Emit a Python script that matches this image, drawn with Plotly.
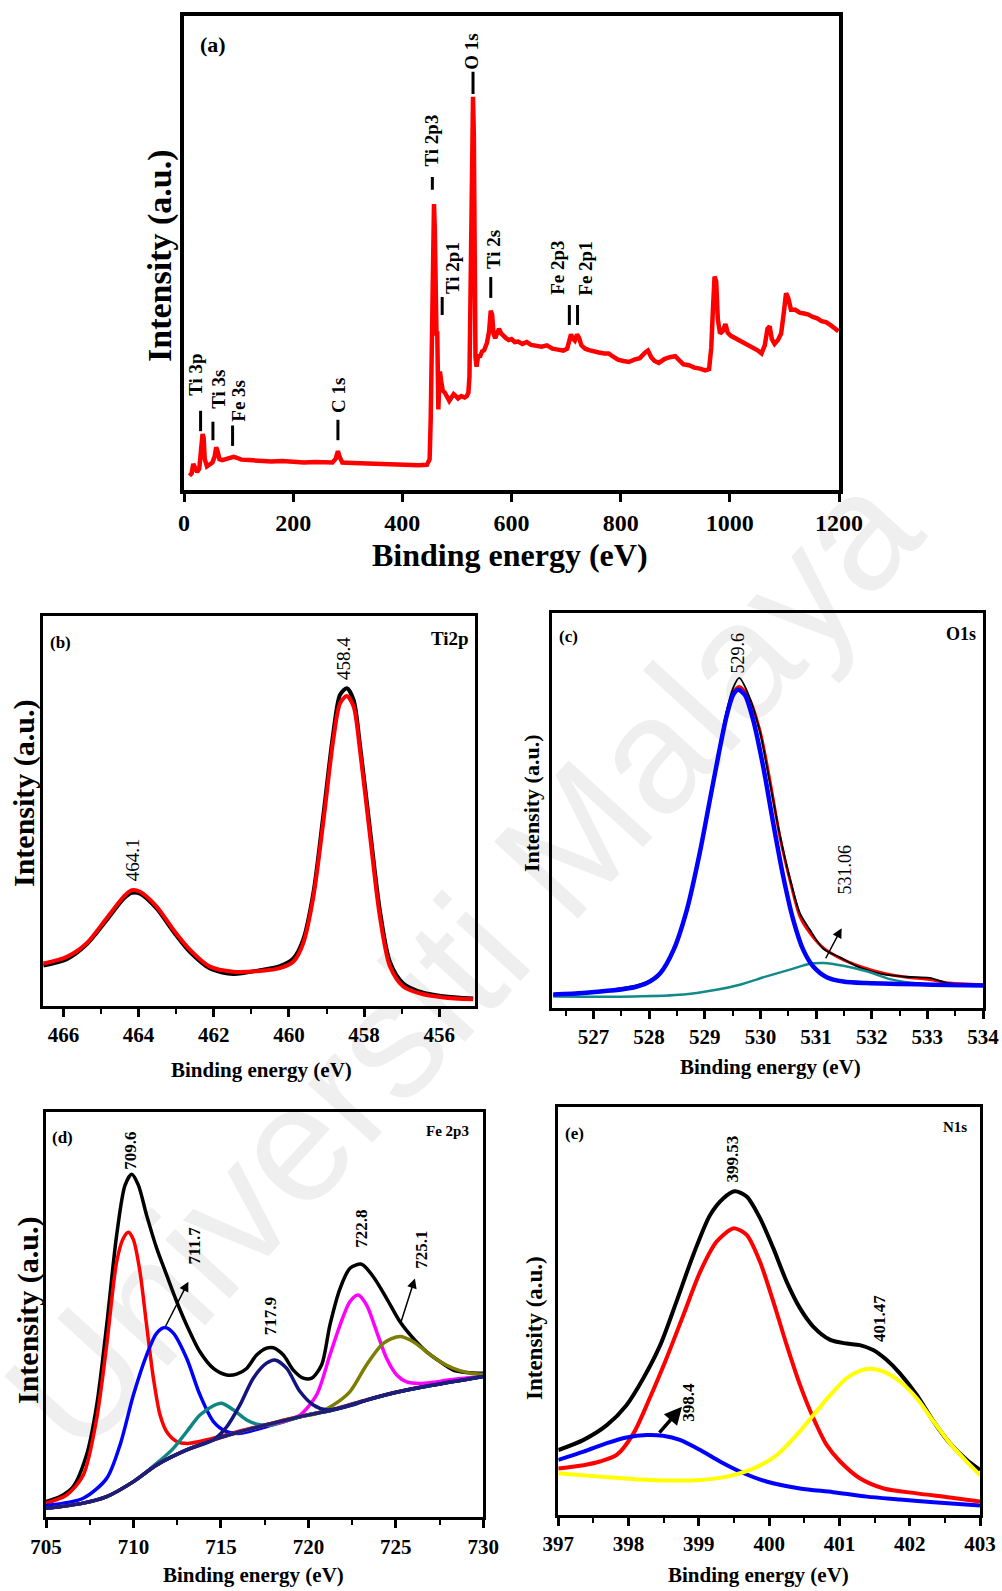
import plotly.graph_objects as go

# ---------------- (a) survey spectrum ----------------
a_energy = [10, 14, 17, 20, 24, 28, 31, 34, 36, 38, 42, 47, 52, 56, 59, 62, 65, 70, 78, 85, 91, 97, 105, 120, 140,
            160, 180, 200, 220, 240, 260, 272, 278, 282, 285, 290, 310, 330, 350, 370, 390, 410, 430, 445, 450,
            452, 454, 456, 458, 459.5, 461, 462.5, 464, 465, 466, 467.5, 469, 471, 474, 478, 482, 486, 490, 494,
            498, 502, 508, 514, 518, 521, 523, 525, 527, 529.5, 531, 532.5, 534, 536, 539, 542, 546, 550, 555,
            559, 562, 564.5, 567, 570, 574, 577, 581, 585, 590, 595, 600, 606, 612, 620, 628, 636, 645, 655, 665,
            675, 685, 695, 702, 706, 709, 712, 716, 720, 724, 728, 735, 742, 750, 760, 770, 778, 785, 795, 805,
            815, 825, 835, 845, 850, 856, 862, 870, 880, 890, 900, 908, 915, 925, 935, 945, 955, 962, 966, 969,
            972, 975, 978, 982, 987, 992, 996, 1002, 1010, 1020, 1030, 1040, 1050, 1058, 1064, 1069, 1073, 1077,
            1082, 1088, 1094, 1099, 1103, 1107, 1112, 1120, 1128, 1136, 1144, 1152, 1160, 1168, 1176, 1184,
            1192, 1199]
a_intensity = [3.0, 3.5, 5.5, 4.5, 3.8, 4.5, 8.0, 11.8, 11.0, 6.5, 5.0, 5.3, 5.8, 7.0, 9.0, 8.0, 6.5, 6.3, 6.5, 6.8,
               7.0, 6.8, 6.4, 6.3, 6.1, 6.0, 6.1, 5.9, 5.8, 5.9, 5.7, 5.8, 6.6, 8.2, 7.0, 5.8, 5.7, 5.6, 5.6, 5.5,
               5.4, 5.3, 5.2, 5.3, 6.5, 15, 35, 52, 60.3, 55, 38, 33, 33, 22, 17, 22, 25, 23, 21, 20.5, 19.5, 18.8,
               19.5, 20.2, 19.8, 19.3, 19.8, 19.5, 19.8, 20.5, 24, 45, 72, 82.9, 75, 45, 28, 26, 28.5, 28, 29.2,
               29.5, 31, 33.5, 37.8, 37, 33, 32, 33.5, 34, 33, 32.5, 32, 31.6, 31.8, 31.2, 31.3, 30.8, 31.2, 30.6,
               30.3, 30.2, 30.5, 29.8, 29.6, 29.4, 29.8, 31.5, 32.8, 32, 31.5, 32.8, 32, 30.5, 29.8, 29.5, 29.2,
               29.0, 28.8, 28.8, 28.2, 27.5, 27.2, 27.0, 27.5, 27.8, 29.0, 29.4, 28.0, 27.2, 26.8, 27.6, 28.0, 28.2,
               27.3, 26.5, 26.3, 25.8, 25.6, 25.2, 25.5, 30, 38, 45, 44, 36, 33, 33.5, 35, 33.2, 32.5, 32.0, 31.2,
               30.8, 30.2, 29.5, 28.8, 30.5, 34.0, 34.5, 31.8, 30.8, 31.6, 33.0, 37.5, 41.5, 40.5, 38.0, 38.0, 37.4,
               37.2, 37.0, 36.5, 36.2, 35.6, 35.4, 34.8, 34.0, 33.5]
a_peak_names = ["Ti 3p", "Ti 3s", "Fe 3s", "C 1s", "Ti 2p3", "Ti 2p1", "O 1s", "Ti 2s", "Fe 2p3", "Fe 2p1"]
a_peak_energy = [30.4, 53, 89, 282, 455, 473, 529.5, 562, 706, 721]
a_dash_low = [12.4, 10.5, 9.3, 10.5, 63.3, 36.9, 83.5, 40.5, 34.8, 34.8]
a_dash_high = [16.7, 14.4, 13.6, 14.8, 66.0, 40.7, 88.2, 44.9, 39.0, 39.0]
a_label_energy = [22, 63, 99.5, 282, 453.6, 491, 527, 566, 683, 736]
a_label_level = [24.3, 21.2, 18.9, 20.0, 73.6, 46.8, 92.3, 50.8, 46.8, 46.6]
a_ticks = [0, 200, 400, 600, 800, 1000, 1200]

# ---------------- (b) Ti 2p ----------------
b_energy = [466.53, 465.91, 465.38, 464.85, 464.40, 464.18, 463.96, 463.52, 463.07, 462.63, 462.10, 461.48,
            460.77, 460.24, 459.88, 459.62, 459.35, 459.09, 458.82, 458.64, 458.46, 458.28, 458.11, 457.84,
            457.58, 457.31, 456.96, 456.43, 455.89, 455.10]
b_fit = [10.9, 12.6, 16.1, 22.5, 28.0, 29.7, 29.3, 25.5, 19.5, 14.4, 10.1, 8.8, 9.0, 9.7, 11.4, 16.1, 28.0, 46.8,
         68.2, 77.6, 79.5, 76.8, 65.6, 43.4, 22.9, 10.1, 5.0, 3.0, 2.2, 1.7]
b_raw = [10.4, 12.0, 15.8, 22.0, 27.5, 29.0, 28.8, 25.0, 19.0, 13.8, 9.6, 8.2, 9.2, 10.2, 12.2, 17.0, 29.0, 48.5,
         70.0, 79.8, 81.5, 78.5, 67.0, 45.0, 24.5, 11.2, 5.8, 3.4, 2.5, 1.9]
b_labels = ["464.1", "458.4"]
b_label_energy = [464.17, 458.55]
b_label_level = [37.4, 89.1]

# ---------------- (c) O 1s ----------------
c_energy_main = [526.28, 526.82, 527.30, 527.72, 527.96, 528.20, 528.44, 528.68, 528.91, 529.15, 529.39, 529.51,
                 529.60, 529.72, 529.87, 530.05, 530.23, 530.41, 530.59, 530.77, 530.95, 531.19, 531.49, 531.91,
                 532.51, 533.10, 534.0]
c_main = [3.4, 3.8, 4.4, 5.2, 6.3, 8.8, 14.7, 24.9, 39.2, 56.9, 73.7, 79.2, 80.5, 79.2, 72.9, 61.1, 46.8, 33.3,
          22.3, 14.7, 10.5, 7.8, 6.7, 6.3, 6.1, 5.9, 5.7]
c_energy_minor = [526.28, 527.72, 528.62, 529.21, 529.63, 530.11, 530.53, 530.89, 531.13, 531.49, 531.91, 532.33,
                  532.75, 533.10, 534.0]
c_minor = [2.9, 2.9, 3.4, 4.6, 5.9, 8.0, 9.7, 11.2, 11.4, 10.7, 9.3, 7.3, 6.3, 5.9, 5.6]
c_energy_total = [526.28, 526.82, 527.30, 527.72, 527.96, 528.20, 528.44, 528.68, 528.91, 529.15, 529.39, 529.51,
                  529.62, 529.78, 529.99, 530.17, 530.35, 530.53, 530.71, 530.89, 531.13, 531.43, 531.79, 532.21,
                  532.63, 533.04, 533.40, 534.0]
c_fit = [3.4, 3.8, 4.4, 5.2, 6.3, 8.8, 14.7, 24.9, 39.2, 56.9, 74.0, 79.8, 81.3, 78.8, 70.3, 57.7, 43.4, 32.4,
         23.2, 19.0, 15.2, 12.6, 10.5, 8.8, 7.8, 7.2, 6.3, 5.9]
c_raw = [3.0, 3.6, 4.6, 5.6, 6.6, 9.0, 15.0, 25.0, 39.5, 57.5, 75.0, 81.0, 83.5, 79.5, 70.0, 57.0, 43.8, 32.8,
         24.0, 19.8, 15.0, 12.8, 10.2, 8.5, 7.9, 7.6, 6.2, 5.8]
c_labels = ["529.6", "531.06"]
c_label_energy = [529.60, 531.52]
c_label_level = [89.7, 35.0]
c_arrow_from = (531.16, 12.2)
c_arrow_to = (531.46, 20.2)

# ---------------- (d) Fe 2p ----------------
d_env_e = [705.0, 705.8, 706.56, 707.32, 707.9, 708.47, 709.04, 709.52, 709.9, 710.28, 710.75, 711.33, 711.9,
           712.47, 713.04, 713.8, 714.57, 715.33, 715.9, 716.47, 717.04, 717.61, 717.99, 718.57, 719.14, 719.71,
           720.19, 720.76, 721.23, 721.81, 722.38, 723.04, 723.71, 724.47, 725.24, 726.0, 726.76, 727.52, 728.29,
           729.05, 730.0]
d_env = [3.9, 5.1, 7.6, 15.4, 27.7, 47.4, 69.6, 81.9, 84.6, 81.9, 74.5, 66.3, 59.7, 53.2, 47.4, 40.8, 36.7, 35.1,
         35.3, 36.7, 40.0, 41.7, 41.8, 40.0, 36.3, 34.3, 34.3, 37.6, 47.4, 56.4, 61.4, 62.4, 59.3, 54.0, 48.2, 44.1,
         40.8, 38.4, 36.3, 35.7, 35.5]
d_bg_e = [705.0, 707.13, 708.47, 710.0, 711.33, 713.04, 714.57, 716.09, 717.61, 719.52, 721.43, 723.33, 725.24,
          727.14, 730.0]
d_bg = [2.2, 3.5, 5.1, 8.8, 12.9, 16.6, 19.1, 21.1, 22.8, 24.8, 26.5, 28.9, 31.0, 32.6, 34.7]
d_p1_e = [705.0, 706.18, 707.13, 707.9, 708.47, 709.04, 709.42, 709.71, 710.0, 710.37, 710.75, 711.14, 711.52,
          711.9, 712.47, 713.04, 714.57, 716.09, 717.61, 719.52, 721.43, 723.33, 725.24, 727.14, 730.0]
d_p1 = [3.5, 5.5, 10.4, 24.4, 42.5, 63.0, 68.8, 70.3, 68.4, 60.6, 47.4, 34.3, 25.2, 21.1, 18.7, 18.2, 19.5, 21.3,
        22.9, 24.9, 26.6, 29.0, 31.1, 32.7, 34.8]
d_p2_e = [705.0, 707.13, 708.47, 709.23, 710.0, 710.75, 711.33, 711.80, 712.28, 713.04, 713.8, 714.57, 715.33,
          716.09, 717.23, 719.52, 721.43, 723.33, 725.24, 727.14, 730.0]
d_p2 = [2.9, 4.7, 9.6, 17.8, 30.2, 40.0, 45.4, 46.8, 45.4, 39.2, 30.2, 23.6, 21.1, 20.7, 21.9, 24.8, 26.5, 28.9,
        31.0, 32.6, 34.7]
d_p3_e = [705.0, 707.13, 708.47, 710.0, 711.33, 712.28, 713.04, 713.8, 714.57, 715.04, 715.71, 716.47, 717.23,
          717.99, 719.52, 721.43, 723.33, 725.24, 727.14, 730.0]
d_p3 = [2.2, 3.5, 5.1, 8.8, 13.3, 17.0, 21.1, 25.2, 27.5, 28.1, 26.5, 24.0, 22.8, 22.8, 24.8, 26.5, 28.9, 31.0,
        32.6, 34.7]
d_p4_e = [705.0, 707.13, 708.47, 710.0, 711.33, 713.04, 714.57, 715.33, 716.09, 716.85, 717.61, 718.09, 718.76,
          719.52, 720.28, 721.04, 721.81, 722.57, 723.33, 725.24, 727.14, 730.0]
d_p4 = [2.2, 3.5, 5.1, 8.8, 12.9, 16.6, 19.1, 22.3, 27.7, 34.3, 38.0, 38.8, 36.7, 31.0, 27.7, 26.5, 26.9, 27.7,
        28.9, 31.0, 32.6, 34.7]
d_p5_e = [705.0, 707.13, 708.47, 710.0, 711.33, 713.04, 714.57, 716.09, 717.61, 718.57, 719.52, 720.47, 721.23,
          721.81, 722.38, 722.85, 723.33, 723.9, 724.47, 725.05, 725.62, 726.38, 727.14, 728.1, 730.0]
d_p5 = [2.2, 3.5, 5.1, 8.8, 12.9, 16.6, 19.1, 21.1, 22.8, 23.6, 25.2, 30.2, 40.0, 47.4, 53.2, 54.8, 52.3, 45.8,
        39.2, 35.1, 33.4, 33.0, 33.3, 33.9, 34.7]
d_p6_e = [705.0, 707.13, 708.47, 710.0, 711.33, 713.04, 714.57, 716.09, 717.61, 719.52, 720.47, 721.43, 722.38,
          723.33, 724.28, 725.24, 726.0, 726.76, 727.52, 728.29, 729.05, 730.0]
d_p6 = [2.2, 3.5, 5.1, 8.8, 12.9, 16.6, 19.1, 21.1, 22.8, 24.8, 25.6, 27.7, 31.0, 37.6, 42.9, 44.6, 43.3, 40.8,
        38.4, 36.7, 35.7, 35.2]
d_labels = ["709.6", "711.7", "717.9", "722.8", "725.1"]
d_label_energy = [709.86, 713.52, 717.84, 723.06, 726.42]
d_label_level = [90.4, 67.0, 49.5, 71.1, 65.9]
d_arrows = [((711.80, 46.8), (713.14, 58.1)), ((725.24, 47.4), (726.09, 58.9))]

# ---------------- (e) N 1s ----------------
e_env_e = [397.0, 397.36, 397.69, 397.97, 398.21, 398.45, 398.68, 398.92, 399.16, 399.35, 399.51, 399.68, 399.87,
           400.06, 400.25, 400.44, 400.63, 400.87, 401.10, 401.29, 401.48, 401.67, 401.86, 402.10, 402.34, 402.57,
           402.81, 403.0]
e_env = [15.9, 18.4, 22.0, 26.9, 33.5, 41.6, 52.2, 63.7, 73.5, 77.6, 79.3, 78.0, 72.7, 65.3, 57.1, 50.6, 46.1, 42.9,
         42.0, 41.6, 40.4, 38.0, 34.7, 29.4, 22.9, 17.6, 13.5, 11.0]
e_p1_e = [397.0, 397.36, 397.59, 397.83, 398.07, 398.30, 398.54, 398.78, 399.02, 399.25, 399.44, 399.51, 399.68,
          399.87, 400.06, 400.25, 400.44, 400.63, 400.82, 401.01, 401.29, 401.63, 402.10, 402.57, 403.0]
e_p1 = [11.4, 12.2, 13.1, 14.7, 20.0, 28.6, 38.4, 49.0, 59.6, 66.9, 69.8, 70.2, 68.6, 62.0, 52.2, 41.6, 31.8, 23.7,
        17.1, 13.1, 9.0, 6.5, 5.3, 4.3, 3.3]
e_p2_e = [397.0, 397.36, 397.69, 397.97, 398.26, 398.49, 398.73, 399.02, 399.30, 399.59, 399.96, 400.44, 400.91,
          401.39, 401.86, 402.34, 403.0]
e_p2 = [13.5, 15.5, 17.6, 19.0, 19.6, 19.4, 18.4, 15.9, 13.1, 10.6, 8.2, 6.5, 5.6, 4.5, 3.8, 3.1, 2.3]
e_p3_e = [397.0, 397.59, 398.30, 399.02, 399.40, 399.78, 400.11, 400.39, 400.63, 400.87, 401.10, 401.29, 401.44,
          401.63, 401.86, 402.10, 402.34, 402.57, 402.81, 403.0]
e_p3 = [10.2, 9.4, 8.6, 8.6, 9.4, 11.4, 14.7, 19.6, 24.5, 29.4, 33.5, 35.3, 35.8, 35.1, 32.7, 28.6, 22.9, 17.6,
        13.1, 9.8]
e_labels = ["399.53", "401.47", "398.4"]
e_label_energy = [399.48, 401.56, 398.85]
e_label_level = [87.2, 48.2, 27.6]
e_arrow_from = (398.42, 19.8)
e_arrow_to = (398.76, 26.5)

SERIF = "Liberation Serif"
fig = go.Figure()


def add_line(x, y, ax, color, width, shape="spline"):
    fig.add_trace(go.Scatter(x=x, y=y, mode="lines", xaxis="x" + ax, yaxis="y" + ax,
                             line=dict(color=color, width=width, shape=shape, smoothing=0.8),
                             showlegend=False, hoverinfo="skip"))


# (a)
add_line(a_energy, a_intensity, "", "#ff0000", 4.5, shape="linear")
# (b)
add_line(b_energy, b_raw, "2", "#000000", 4)
add_line(b_energy, b_fit, "2", "#ff0000", 4)
# (c)
add_line(c_energy_total, c_fit, "3", "#ff0000", 3)
add_line(c_energy_total, c_raw, "3", "#000000", 1.8)
add_line(c_energy_minor, c_minor, "3", "#138a8a", 2.5)
add_line(c_energy_main, c_main, "3", "#0000ff", 4.5)
# (d)
add_line(d_env_e, d_env, "4", "#000000", 3.5)
add_line(d_p1_e, d_p1, "4", "#ff0000", 3.5)
add_line(d_p2_e, d_p2, "4", "#0000ff", 3.5)
add_line(d_p3_e, d_p3, "4", "#108585", 3.5)
add_line(d_p5_e, d_p5, "4", "#ff00ff", 3.5)
add_line(d_p6_e, d_p6, "4", "#7d7d00", 3.5)
add_line(d_p4_e, d_p4, "4", "#14147f", 3.5)
add_line(d_bg_e, d_bg, "4", "#1e1e78", 3.5)
# (e)
add_line(e_env_e, e_env, "5", "#000000", 4)
add_line(e_p1_e, e_p1, "5", "#ff0000", 4)
add_line(e_p2_e, e_p2, "5", "#0000ff", 4)
add_line(e_p3_e, e_p3, "5", "#ffff00", 4)

W, H = 1002, 1591


def px_dom_x(a, b):
    return [a / W, b / W]


def px_dom_y(top, bottom):
    return [1 - bottom / H, 1 - top / H]


def xaxis(dom, rng, dtick, minor, tfsize, lw, anchor):
    d = dict(domain=dom, range=rng, showline=True, linewidth=lw, linecolor="black", mirror=True,
             ticks="outside", ticklen=8, tickwidth=2.5, tickcolor="black", dtick=dtick,
             showgrid=False, zeroline=False, automargin=False, anchor=anchor,
             tickfont=dict(family=SERIF, size=tfsize, color="black", weight="bold"))
    if minor:
        d["minor"] = dict(dtick=minor, ticks="outside", ticklen=5, tickwidth=2, tickcolor="black", showgrid=False)
    return d


def yaxis(dom, lw, anchor):
    return dict(domain=dom, range=[0, 100], showline=True, linewidth=lw, linecolor="black", mirror=True,
                ticks="", showticklabels=False, showgrid=False, zeroline=False, anchor=anchor,
                automargin=False)


lay = dict(template="none", width=W, height=H, autosize=False, margin=dict(l=0, r=0, t=0, b=0, pad=0),
           paper_bgcolor="white", plot_bgcolor="rgba(0,0,0,0)", showlegend=False)
lay["xaxis"] = xaxis(px_dom_x(184, 839), [0, 1200], 200, None, 24, 4, "y")
lay["xaxis"]["tickvals"] = a_ticks
lay["yaxis"] = yaxis(px_dom_y(15.7, 490), 4, "x")
lay["xaxis2"] = xaxis(px_dom_x(42.7, 475), [466.55, 455.05], 2, 1, 21, 3, "y2")
lay["yaxis2"] = yaxis(px_dom_y(616, 1006), 3, "x2")
lay["xaxis3"] = xaxis(px_dom_x(551.7, 983), [526.25, 534], 1, 0.5, 21, 3, "y3")
lay["yaxis3"] = yaxis(px_dom_y(612.7, 1008), 3, "x3")
lay["xaxis4"] = xaxis(px_dom_x(46, 483.3), [705, 730], 5, 2.5, 21, 3, "y4")
lay["yaxis4"] = yaxis(px_dom_y(1111.7, 1517.3), 3, "x4")
lay["xaxis5"] = xaxis(px_dom_x(558.3, 980), [397, 403], 1, 0.5, 21, 3, "y5")
lay["yaxis5"] = yaxis(px_dom_y(1106.7, 1515), 3, "x5")
fig.update_layout(**lay)

ann = []
shapes = []


def ptext(text, xp, yp, size, angle=0, bold=True):
    ann.append(dict(text=text, x=xp / W, y=1 - yp / H, xref="paper", yref="paper", showarrow=False,
                    textangle=angle, xanchor="center", yanchor="middle",
                    font=dict(family=SERIF, size=size, color="black", weight="bold" if bold else "normal")))


# axis titles
ptext("Binding energy (eV)", 510, 555, 32)
ptext("Intensity (a.u.)", 160, 256, 34, -90)
ptext("Binding energy (eV)", 261, 1070, 21)
ptext("Intensity (a.u.)", 24, 793, 30, -90)
ptext("Binding energy (eV)", 770, 1067, 21)
ptext("Intensity (a.u.)", 531, 803, 22, -90)
ptext("Binding energy (eV)", 254, 1575, 21)
ptext("Intensity (a.u.)", 28, 1310, 30, -90)
ptext("Binding energy (eV)", 758, 1575, 21)
ptext("Intensity (a.u.)", 534, 1328, 23, -90)
# panel labels
ptext("(a)", 213, 45, 22)
ptext("(b)", 60, 643, 17)
ptext("Ti2p", 450, 638, 19)
ptext("(c)", 568, 636, 17)
ptext("O1s", 961, 634, 18)
ptext("(d)", 62, 1137, 17)
ptext("Fe 2p3", 447, 1131, 15)
ptext("(e)", 574, 1133, 17)
ptext("N1s", 955, 1127, 15)

# (a) peak labels + dashes
for name, e, lo, hi, le, ll in zip(a_peak_names, a_peak_energy, a_dash_low, a_dash_high, a_label_energy,
                                    a_label_level):
    shapes.append(dict(type="line", xref="x", yref="y", x0=e, x1=e, y0=lo, y1=hi,
                       line=dict(color="black", width=3)))
    ann.append(dict(text=name, x=le, y=ll, xref="x", yref="y", showarrow=False, textangle=-90,
                    font=dict(family=SERIF, size=19, color="black", weight="bold")))


def value_labels(names, es, ls, ax, size, bold):
    for n, e, l in zip(names, es, ls):
        ann.append(dict(text=n, x=e, y=l, xref="x" + ax, yref="y" + ax, showarrow=False, textangle=-90,
                        font=dict(family=SERIF, size=size, color="black", weight="bold" if bold else "normal")))


value_labels(b_labels, b_label_energy, b_label_level, "2", 19, False)
value_labels(c_labels, c_label_energy, c_label_level, "3", 18, False)
value_labels(d_labels, d_label_energy, d_label_level, "4", 17, True)
value_labels(e_labels, e_label_energy, e_label_level, "5", 17, True)


def arrow(frm, to, ax, width, size):
    ann.append(dict(text="", x=to[0], y=to[1], ax=frm[0], ay=frm[1], xref="x" + ax, yref="y" + ax,
                    axref="x" + ax, ayref="y" + ax, showarrow=True, arrowhead=2, arrowsize=size,
                    arrowwidth=width, arrowcolor="black"))


arrow(c_arrow_from, c_arrow_to, "3", 1.5, 1.3)
for frm, to in d_arrows:
    arrow(frm, to, "4", 1.5, 1.3)
arrow(e_arrow_from, e_arrow_to, "5", 3.5, 1)

# faint diagonal watermark behind everything
shapes.append(dict(type="line", xref="paper", yref="paper", layer="below",
                   x0=10 / W, y0=1 - 1430 / H, x1=890 / W, y1=1 - 470 / H,
                   line=dict(width=0, color="rgba(0,0,0,0)"),
                   label=dict(text="Universiti Malaya", textposition="middle", yanchor="middle",
                              font=dict(family="Liberation Sans", size=165, color="#efefef"))))

fig.update_layout(annotations=ann, shapes=shapes)
fig.write_html("out.html")
